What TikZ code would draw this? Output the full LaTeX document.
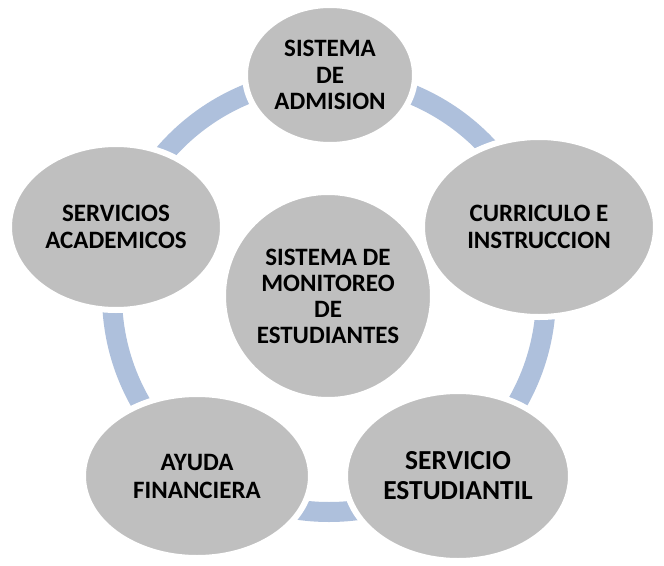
\documentclass[tikz,border=0pt]{standalone}
\usepackage{fontspec}
\setmainfont{Carlito}
\usetikzlibrary{shapes.geometric}
\definecolor{ringblue}{HTML}{AEC0DC}
\definecolor{bubble}{HTML}{BFBFBF}
\tikzset{
  bubblenode/.style={ellipse, fill=bubble, draw=white, line width=6pt, inner sep=0pt,
    align=center, text=black, font=\bfseries\fontsize{25}{26.5}\selectfont},
  ringline/.style={draw=ringblue, line width=20pt}
}
\begin{document}
\begin{tikzpicture}[x=1pt,y=-1pt]
\useasboundingbox[fill=white] (0,0) rectangle (664,565);
\coordinate (ringc) at (329,295);
\draw[ringline] (ringc) circle (217pt);
\node[bubblenode, minimum width=170pt, minimum height=140pt] (adm) at (330,75) {SISTEMA\\DE\\ADMISION};
\node[bubblenode, minimum width=234pt, minimum height=180pt, font=\bfseries\fontsize{25}{27}\selectfont] (cur) at (539,227) {CURRICULO E\\INSTRUCCION};
\node[bubblenode, minimum width=226pt, minimum height=170pt, font=\bfseries\fontsize{27.5}{30}\selectfont] (est) at (458,476) {SERVICIO\\ESTUDIANTIL};
\node[bubblenode, minimum width=228pt, minimum height=164pt, font=\bfseries\fontsize{25}{28}\selectfont] (ayu) at (197,476) {AYUDA\\FINANCIERA};
\node[bubblenode, minimum width=214pt, minimum height=166pt, font=\bfseries\fontsize{25}{27}\selectfont] (aca) at (116,227) {SERVICIOS\\ACADEMICOS};
\node[bubblenode, minimum width=210pt, minimum height=208pt, font=\bfseries\fontsize{25}{26}\selectfont] (mon) at (328,296) {SISTEMA DE\\MONITOREO\\DE\\ESTUDIANTES};
\end{tikzpicture}
\end{document}
